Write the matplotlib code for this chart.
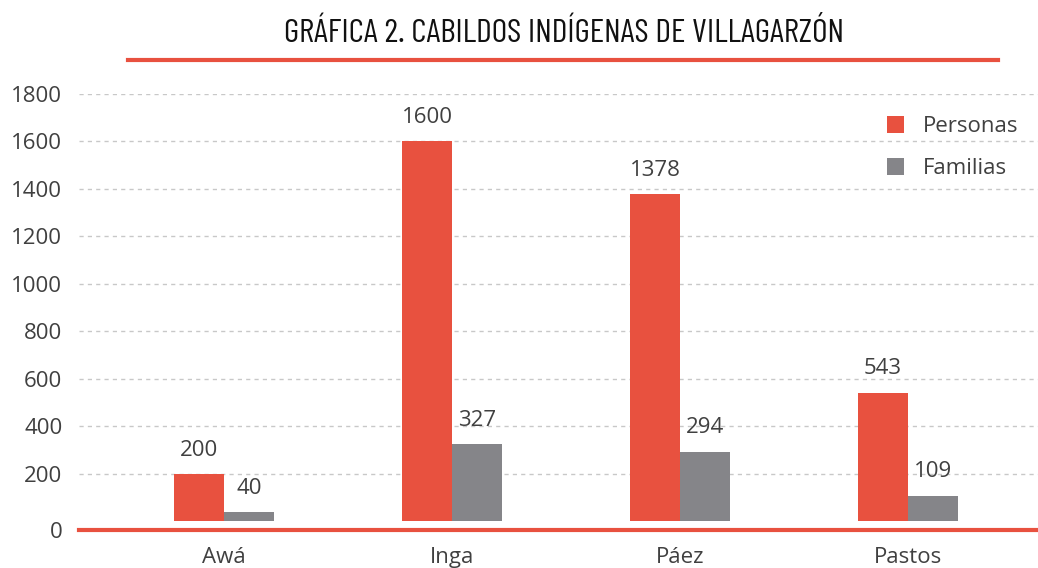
import matplotlib
matplotlib.use("Agg")
import matplotlib.pyplot as plt
from matplotlib import font_manager
import numpy as np

categories = ["Awá", "Inga", "Páez", "Pastos"]
personas = [200, 1600, 1378, 543]
familias = [40, 327, 294, 109]
tick_values = [0, 200, 400, 600, 800, 1000, 1200, 1400, 1600, 1800]
title = "GRÁFICA 2. CABILDOS INDÍGENAS DE VILLAGARZÓN"

RED = "#E8513F"
GRAY = "#858589"
TXT = "#404040"

names = {f.name for f in font_manager.fontManager.ttflist}
def pick(*cands):
    for c in cands:
        if c in names:
            return c
    return "DejaVu Sans"
base_font = pick("Open Sans", "Noto Sans")
title_font = pick("Barlow Condensed", "Open Sans Condensed", "Liberation Sans Narrow")
plt.rcParams['font.family'] = [base_font, 'DejaVu Sans']

fig = plt.figure(figsize=(10.38, 5.68), dpi=100)
ax = fig.add_axes([79/1038, 38/568, 959/1038, 436/568])

x = np.arange(len(categories))
w = 0.22
b1 = ax.bar(x - w/2, personas, w, color=RED, label="Personas", zorder=3)
b2 = ax.bar(x + w/2, familias, w, color=GRAY, label="Familias", zorder=3)

for rects, vals in ((b1, personas), (b2, familias)):
    for r, v in zip(rects, vals):
        ax.annotate(str(v), (r.get_x() + r.get_width()/2, v), xytext=(0, 9.5),
                    textcoords="offset points", ha="center", va="bottom",
                    fontsize=16, color=TXT)

ax.set_xlim(-0.636, 3.57)
ax.set_ylim(-36, 1800)
ax.set_xticks(x)
ax.set_xticklabels(categories, fontsize=16, color=TXT)
tick_pos = [-36] + tick_values[1:]
ax.set_yticks(tick_pos)
ax.set_yticklabels([str(t) for t in tick_values], fontsize=16, color=TXT)
ax.tick_params(axis="both", length=0)
ax.tick_params(axis="y", pad=12)
ax.tick_params(axis="x", pad=12)

for yv in tick_values[1:]:
    ax.axhline(yv, color="#c8c8c8", linestyle=(0, (3, 3)), linewidth=1, zorder=1)

for s in ("top", "right", "left"):
    ax.spines[s].set_visible(False)
ax.spines["bottom"].set_color(RED)
ax.spines["bottom"].set_linewidth(3)

leg = ax.legend(loc="upper right", bbox_to_anchor=(1.0, 0.995), frameon=False,
                fontsize=16, handlelength=0.75, handleheight=0.75,
                labelspacing=0.95, handletextpad=0.85, labelcolor=TXT)

fig.text(564/1038, 1 - 34/568, title, ha="center", va="center",
         fontsize=24.3, family=[title_font, 'DejaVu Sans'], color="#111111",
         fontweight="normal")
fig.add_artist(plt.Line2D([128/1038, 998/1038], [1 - 60/568, 1 - 60/568],
                          color=RED, linewidth=3, transform=fig.transFigure))

fig.savefig("out.png", dpi=100)
